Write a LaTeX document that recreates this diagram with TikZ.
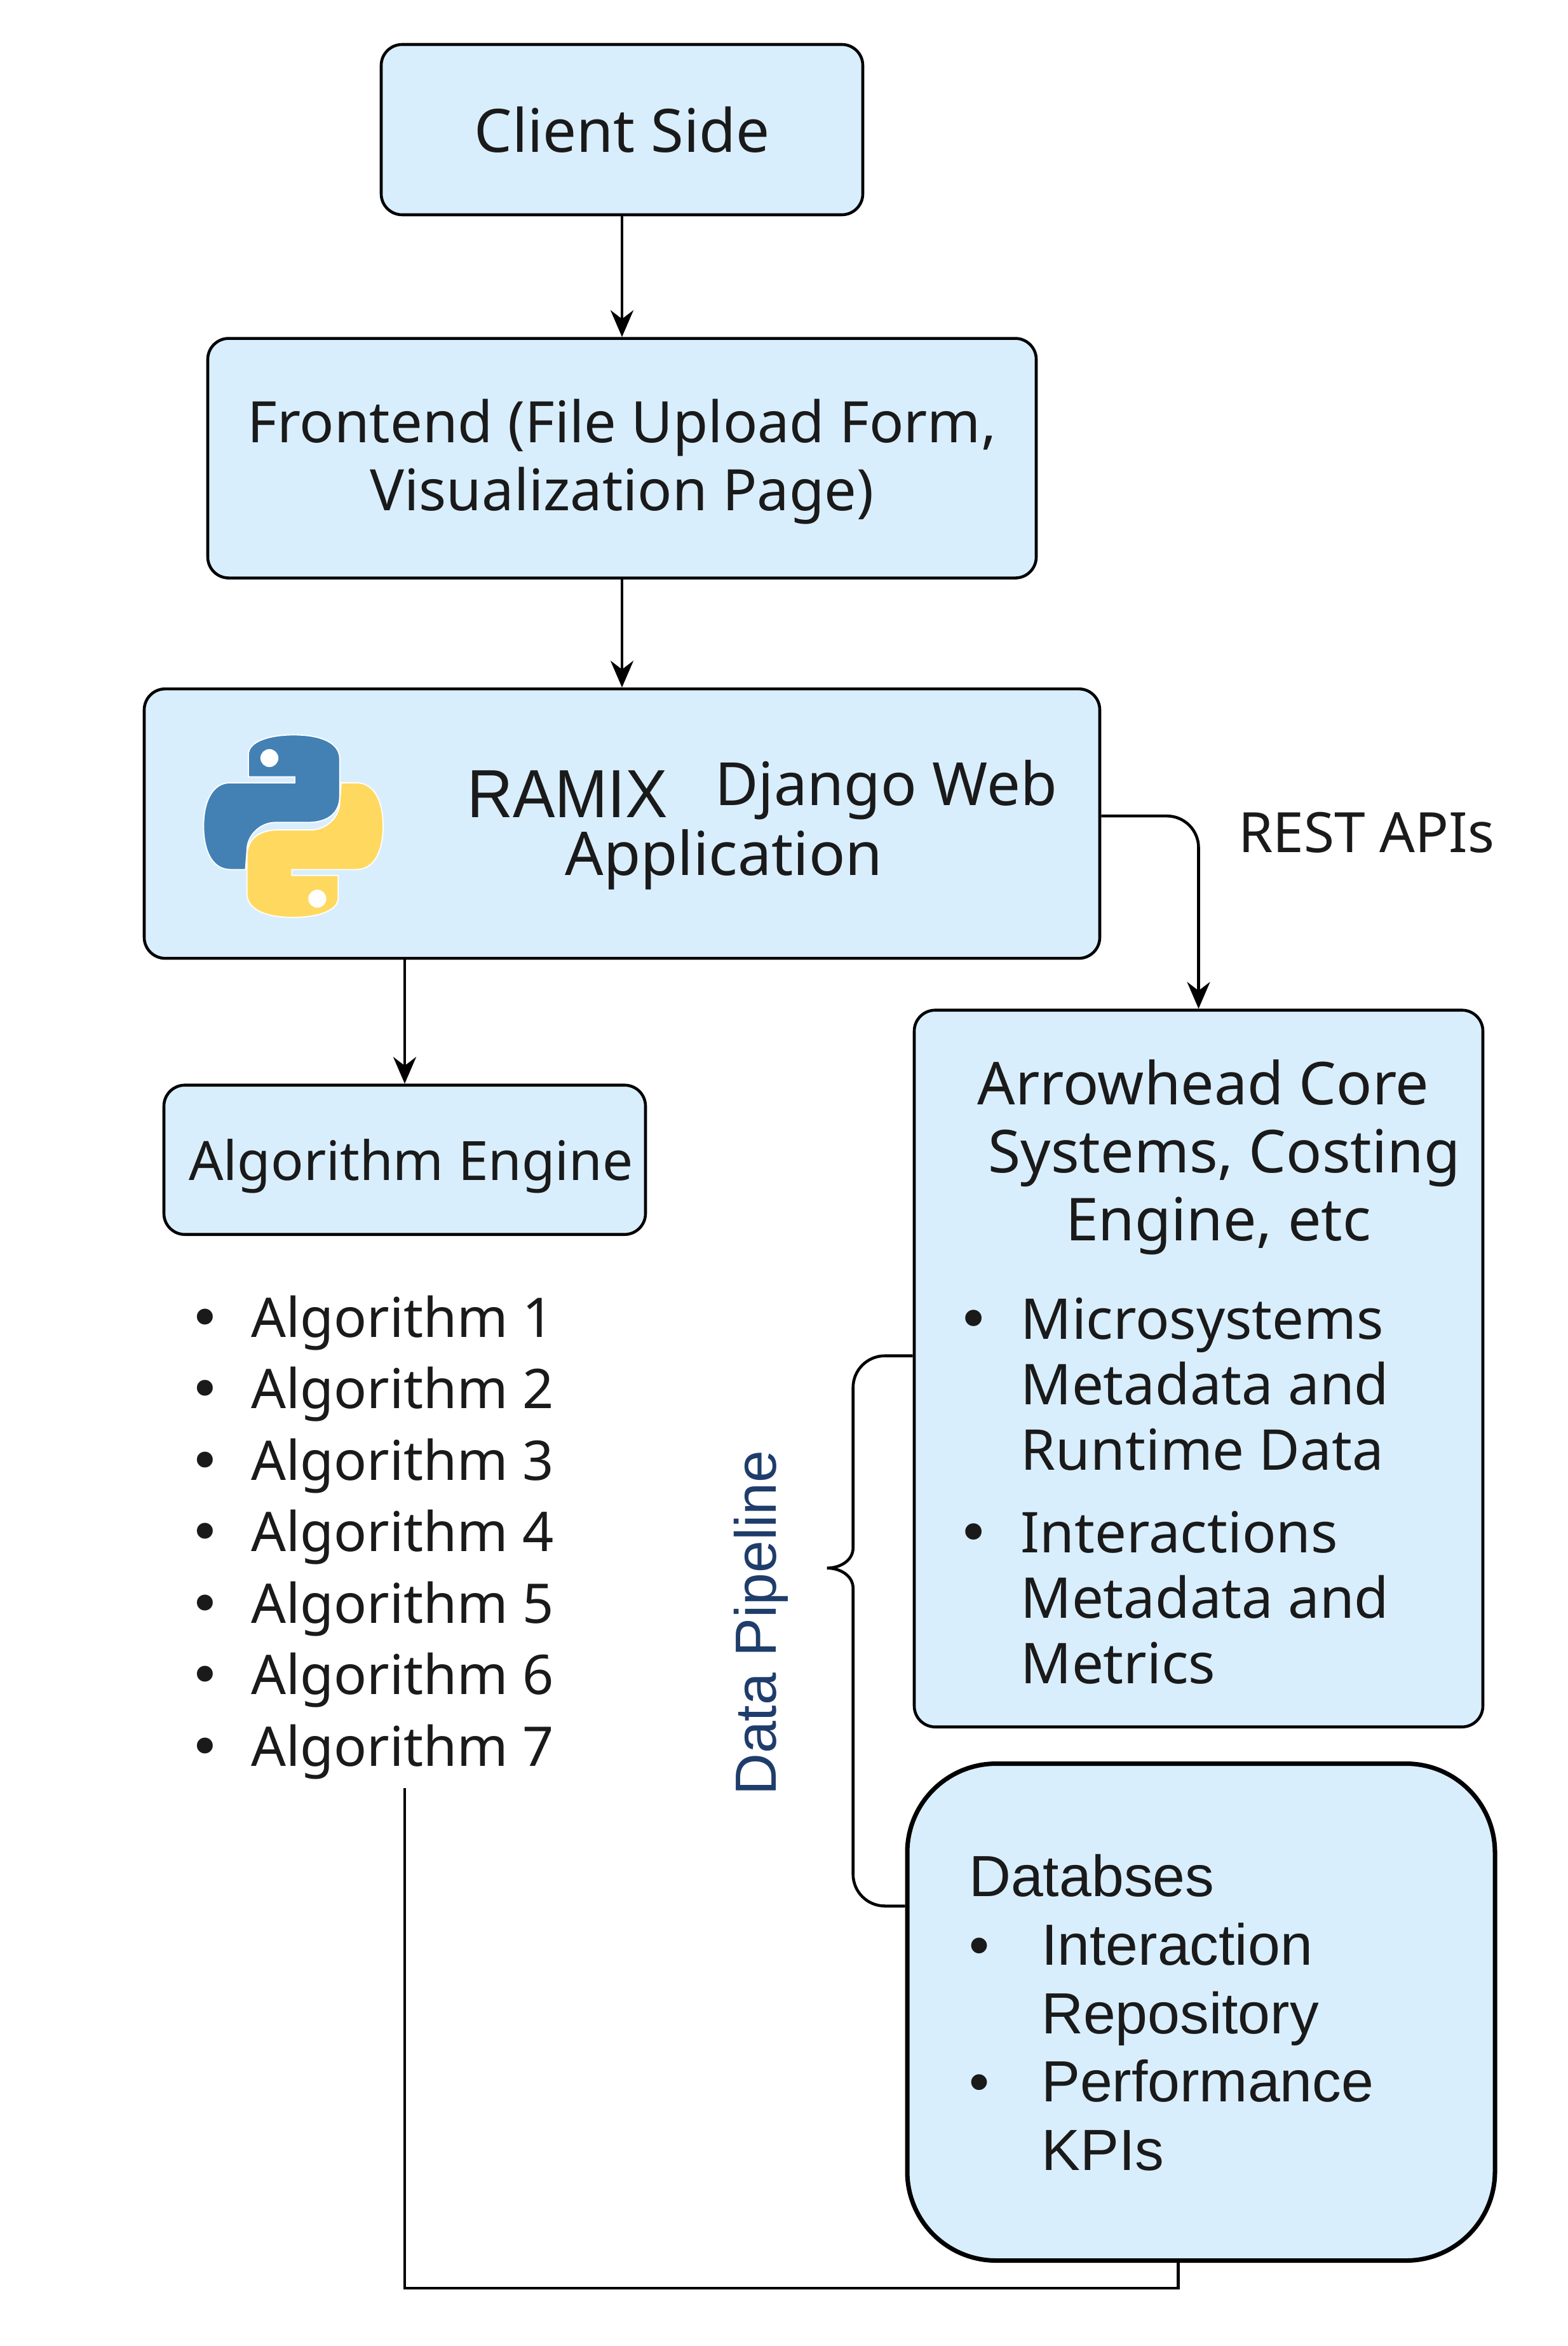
\documentclass[tikz,border=0pt]{standalone}
\usepackage{fontspec}
\setmainfont{Noto Sans}
\newfontfamily\dbfamily{Liberation Sans}
\newfontfamily\dotfamily{DejaVu Sans}
\newfontfamily\ramixfamily[FakeStretch=0.93]{Liberation Sans}
\usetikzlibrary{positioning,arrows.meta,calc}
\definecolor{boxblue}{HTML}{D9EEFD}
\definecolor{inkdark}{HTML}{1A1A1A}
\definecolor{pipenavy}{HTML}{1F3D6B}
\definecolor{snakeblue}{HTML}{4381B5}
\definecolor{snakeyellow}{HTML}{FFD95F}
% one half of the logo, the other half is the same turned round
\newcommand{\snakepath}{(0,-61) .. controls (20,-61) and (31,-55) .. (31,-45) -- (31,-20)
  .. controls (31,-8) and (22,-2.5) .. (10,-2.5) -- (-12,-2.5)
  .. controls (-22,-2.5) and (-31,6) .. (-31,16) -- (-32,29) -- (-42,29)
  .. controls (-55,29) and (-60,15) .. (-60,0) .. controls (-60,-15) and (-55,-29) .. (-42,-29)
  -- (1,-29) -- (1,-33) -- (-30,-33) -- (-30,-48)
  .. controls (-30,-57) and (-15,-61) .. (0,-61) -- cycle}
\newcommand{\bigdot}{{\dotfamily\textbullet}}

\begin{document}
\begin{tikzpicture}[
    bluebox/.style={rectangle, rounded corners=0.33cm, draw=black, fill=boxblue, line width=1.3pt,
                    align=center, text=inkdark, inner sep=0pt,
                    font=\fontsize{25.6}{30.2}\selectfont},
    plaintext/.style={inner sep=0pt, text=inkdark, align=left},
    arrow/.style={-{Stealth[length=0.42cm, width=0.36cm]}, line width=1.3pt, color=black},
    link/.style={line width=1.3pt, color=black},
]
\useasboundingbox (0,0) rectangle (24.67,-36.92);

% Top stack
\node[bluebox, minimum width=7.58cm, minimum height=2.68cm, font=\fontsize{26.8}{30}\selectfont] (client) at (9.79,-2.04) {Client Side};
\node[bluebox, minimum width=13.04cm, minimum height=3.77cm, text depth=3pt, below=1.90cm of client] (frontend)
    {Frontend (File Upload Form,\\Visualization Page)};
\node[bluebox, minimum width=15.04cm, minimum height=4.24cm, below=1.70cm of frontend] (ramix) {};

% Ramix label
\node[plaintext, right=5.1cm of ramix.west, yshift=0.47cm, anchor=west, font=\fontsize{30.5}{32}\ramixfamily] (ramixname) {RAMIX};
\node[plaintext, right=9.0cm of ramix.west, yshift=0.53cm, anchor=west, font=\fontsize{26.7}{30}\selectfont] (django) {Django Web};
\node[plaintext, below right=0.57cm and 6.64cm of ramix.west, anchor=west, font=\fontsize{27}{30}\selectfont] (application) {Application};

% Logo
\coordinate (logo) at ([xshift=2.37cm,yshift=-0.04cm]ramix.west);
\begin{scope}[shift={(logo)}, x=0.02354cm, y=-0.02354cm]
  \fill[snakeyellow, draw=white, line width=0.5pt, rotate=180] \snakepath;
  \fill[snakeblue, draw=white, line width=0.5pt] \snakepath;
  \fill[white] (-16,-45.5) circle (6);
  \fill[white] (16,48.5) circle (6);
\end{scope}

% Left column
\node[bluebox, minimum width=7.58cm, minimum height=2.35cm, text depth=0pt, below right=1.95cm and 0.31cm of ramix.south west, font=\fontsize{24.3}{30}\selectfont] (algo) {\hspace*{0.2cm}Algorithm Engine};
\node[plaintext, below right=0.80cm and 0.41cm of algo.south west, font=\fontsize{24.5}{32}\selectfont] (algolist) {%
  \begin{tabular}{@{}l@{\hspace{0.47cm}}l@{}}
  \bigdot & Algorithm 1\\
  \bigdot & Algorithm 2\\
  \bigdot & Algorithm 3\\
  \bigdot & Algorithm 4\\
  \bigdot & Algorithm 5\\
  \bigdot & Algorithm 6\\
  \bigdot & Algorithm 7
  \end{tabular}};

% Right column
\node[bluebox, minimum width=8.95cm, minimum height=11.28cm, below right=0.77cm and 12.12cm of ramix.south west] (core) {};
\node[plaintext, align=center, below=0.8cm of core.north, xshift=0.24cm, font=\fontsize{26.5}{30.4}\selectfont] (coretitle)
    {Arrowhead Core\hspace*{0.33cm}\\\hspace*{0.33cm}Systems, Costing\\\hspace*{0.14cm}Engine, etc};
\node[plaintext, below right=4.48cm and 0.69cm of core.north west, font=\fontsize{25.2}{29.2}\selectfont] (corelist) {%
  \begin{tabular}{@{}l@{\hspace{0.48cm}}l@{}}
  \bigdot & Microsystems\\
   & Metadata and\\
   & Runtime Data\\[0.28cm]
  \bigdot & Interactions\\
   & Metadata and\\
   & Metrics
  \end{tabular}};
\node[bluebox, minimum width=9.25cm, minimum height=7.82cm, rounded corners=1.4cm, line width=2pt, below=0.52cm of core, xshift=0.04cm] (db) {};
\node[plaintext, below right=1.36cm and 1.0cm of db.north west, font=\fontsize{26}{30.7}\dbfamily] (dblist) {%
  \begin{tabular}{@{}l@{\hspace{0.82cm}}l@{}}
  \multicolumn{2}{@{}l@{}}{Databses}\\
  \textbullet & Interaction\\
   & Repository\\
  \textbullet & Performance\\
   & KPIs
  \end{tabular}};

% Labels
\node[plaintext, right=2.15cm of ramix.east, yshift=-0.14cm, font=\fontsize{24.9}{26}\selectfont] (restlabel) {REST APIs};
\node[inner sep=0pt, rotate=90, text=pipenavy, font=\fontsize{26}{28}\dbfamily] (pipelabel) at (11.98,-25.54) {Data Pipeline};

% Arrows
\draw[arrow] (client) -- (frontend);
\draw[arrow] (frontend) -- (ramix);
\draw[arrow] (ramix.south -| algo.north) -- (algo.north);
\draw[arrow, rounded corners=0.5cm] ([yshift=0.12cm]ramix.east) -| (core.north);

% Bottom link into databases
\coordinate (algoout) at (algo.south |- algolist.south);
\coordinate (dbin) at ([xshift=-0.36cm]db.south);
\coordinate (dbturn) at ([yshift=-0.4cm]dbin);
\draw[link] (algoout) |- (dbturn) -- (dbin);

% Brace
\coordinate (bracetop) at ([yshift=0.2cm]core.west);
\coordinate (bracebot) at ([yshift=1.67cm]db.west);
\coordinate (bracetip) at ($(bracetop)+(-1.35,-3.34)$);
\draw[link] (bracetop) -- ++(-0.44,0) to[out=180,in=90] ++(-0.5,-0.5)
    -- ($(bracetip)+(0.41,0.32)$) to[out=-90,in=0] (bracetip)
    to[out=0,in=90] ($(bracetip)+(0.41,-0.32)$)
    -- ($(bracetip |- bracebot)+(0.41,0.5)$) to[out=-90,in=180] ++(0.5,-0.5) -- (bracebot);

\end{tikzpicture}
\end{document}
